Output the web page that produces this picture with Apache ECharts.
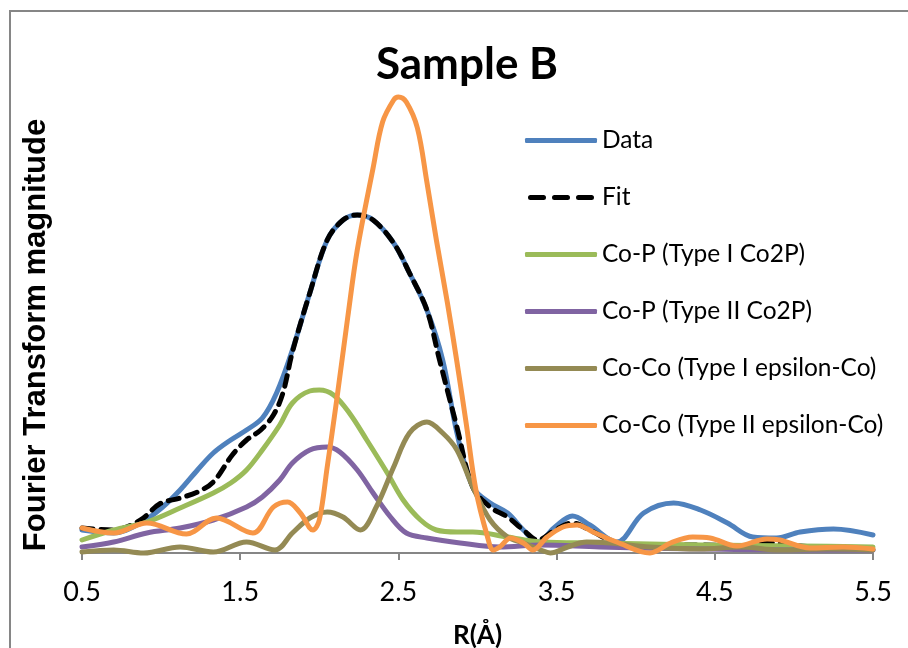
<!DOCTYPE html>
<html>
<head>
<meta charset="utf-8">
<script src="https://cdn.jsdelivr.net/npm/echarts@6/dist/echarts.min.js"></script>
<style>
html,body{margin:0;padding:0;background:#fff;}
#chart{width:908px;height:648px;}
</style>
</head>
<body>
<div id="chart"></div>
<script>
var titleText = 'Sample B';
var xAxisTitle = 'R(Å)';
var yAxisTitle = 'Fourier Transform magnitude';
var seriesNames = ['Data', 'Fit', 'Co-P (Type I Co2P)', 'Co-P (Type II Co2P)', 'Co-Co (Type I epsilon-Co)', 'Co-Co (Type II epsilon-Co)'];
var xTicks = [0.5, 1.5, 2.5, 3.5, 4.5, 5.5];

var dataCurve = [[0.5,0.46],[0.70,0.40],[0.87,0.60],[1.01,0.92],[1.12,1.26],[1.23,1.66],[1.33,2.0],[1.44,2.26],[1.54,2.46],[1.64,2.7],[1.73,3.2],[1.83,4.06],[1.94,5.2],[2.05,6.26],[2.15,6.66],[2.24,6.76],[2.34,6.66],[2.47,6.2],[2.57,5.6],[2.68,4.86],[2.78,3.86],[2.87,2.4],[2.97,1.32],[3.08,1.0],[3.19,0.8],[3.29,0.46],[3.38,0.22],[3.49,0.52],[3.6,0.74],[3.71,0.56],[3.88,0.22],[4.05,0.8],[4.24,1.0],[4.41,0.86],[4.58,0.6],[4.74,0.32],[4.89,0.3],[5.04,0.42],[5.25,0.48],[5.5,0.36]];

var fitCurve = [[0.5,0.5],[0.70,0.46],[0.87,0.66],[0.99,0.98],[1.12,1.1],[1.23,1.22],[1.33,1.42],[1.45,1.96],[1.54,2.26],[1.63,2.46],[1.71,2.76],[1.77,3.2],[1.83,4.02],[1.94,5.2],[2.05,6.26],[2.15,6.66],[2.24,6.76],[2.34,6.66],[2.47,6.2],[2.57,5.6],[2.68,4.86],[2.76,3.86],[2.87,2.52],[2.97,1.32],[3.08,0.92],[3.19,0.72],[3.29,0.46],[3.38,0.26],[3.49,0.46],[3.6,0.6],[3.72,0.44],[3.88,0.2],[4.09,0.16],[4.41,0.16],[4.66,0.14],[4.85,0.2],[5.04,0.14],[5.29,0.10],[5.5,0.1]];

var coP1 = [[0.5,0.26],[0.70,0.46],[0.91,0.62],[1.12,0.9],[1.33,1.2],[1.44,1.4],[1.54,1.66],[1.64,2.06],[1.75,2.56],[1.83,3.0],[1.94,3.24],[2.0,3.26],[2.09,3.16],[2.19,2.8],[2.30,2.26],[2.43,1.6],[2.53,1.06],[2.64,0.66],[2.74,0.46],[2.87,0.42],[2.97,0.42],[3.19,0.32],[3.40,0.22],[3.77,0.2],[4.41,0.16],[5.04,0.14],[5.5,0.12]];

var coP2 = [[0.5,0.12],[0.70,0.22],[0.91,0.4],[1.12,0.5],[1.33,0.66],[1.54,0.92],[1.64,1.12],[1.75,1.46],[1.83,1.8],[1.94,2.06],[2.05,2.12],[2.13,2.02],[2.24,1.66],[2.34,1.2],[2.45,0.72],[2.55,0.4],[2.68,0.3],[2.89,0.2],[3.14,0.12],[3.40,0.16],[3.77,0.12],[4.41,0.08],[5.04,0.06],[5.5,0.06]];

var coCo1 = [[0.5,0.02],[0.70,0.06],[0.89,0.0],[1.12,0.12],[1.33,0.02],[1.54,0.22],[1.72,0.06],[1.83,0.4],[1.94,0.7],[2.05,0.82],[2.15,0.72],[2.26,0.46],[2.36,0.92],[2.47,1.72],[2.57,2.4],[2.68,2.62],[2.78,2.4],[2.87,2.06],[2.97,1.32],[3.08,0.66],[3.19,0.32],[3.29,0.2],[3.40,0.06],[3.46,0.0],[3.57,0.12],[3.69,0.22],[3.84,0.2],[4.09,0.12],[4.41,0.08],[4.66,0.12],[4.91,0.06],[5.23,0.08],[5.5,0.06]];

var coCo2 = [[0.5,0.5],[0.70,0.4],[0.91,0.6],[1.16,0.38],[1.35,0.7],[1.58,0.4],[1.71,0.92],[1.80,1.02],[1.88,0.8],[1.96,0.46],[2.0,0.66],[2.05,1.72],[2.11,3.06],[2.18,4.72],[2.24,6.06],[2.34,7.7],[2.40,8.62],[2.47,9.06],[2.50,9.12],[2.55,9.02],[2.62,8.5],[2.68,7.42],[2.74,6.26],[2.81,5.0],[2.87,3.82],[2.93,2.56],[2.99,1.26],[3.06,0.36],[3.10,0.06],[3.14,0.12],[3.21,0.3],[3.29,0.2],[3.35,0.06],[3.44,0.32],[3.54,0.52],[3.63,0.56],[3.73,0.42],[3.88,0.22],[4.09,0.0],[4.22,0.2],[4.36,0.32],[4.47,0.3],[4.64,0.14],[4.83,0.28],[4.91,0.26],[5.10,0.1],[5.31,0.12],[5.5,0.08]];

var curves = [dataCurve, fitCurve, coP1, coP2, coCo1, coCo2];
var colors = ['#4F81BD', '#000000', '#9BBB59', '#8064A2', '#948A54', '#F79646'];

var chart = echarts.init(document.getElementById('chart'), null, {renderer: 'canvas'});

var calibri = 'Lato, "Open Sans", sans-serif';

var series = curves.map(function (c, i) {
  return {
    name: seriesNames[i],
    type: 'line',
    data: c,
    smooth: 0.35,
    symbol: 'none',
    showSymbol: false,
    clip: false,
    lineStyle: {
      color: colors[i],
      width: 5,
      type: i === 1 ? [11, 8] : 'solid',
      cap: 'round',
      join: 'round'
    },
    itemStyle: {color: colors[i]},
    emphasis: {disabled: true},
    z: 2 + i
  };
});

var dashIcon = 'path://M2.5,0h13a2.5,2.5 0 0 1 0,5h-13a2.5,2.5 0 0 1 0,-5z M26.5,0h13a2.5,2.5 0 0 1 0,5h-13a2.5,2.5 0 0 1 0,-5z M50.5,0h13a2.5,2.5 0 0 1 0,5h-13a2.5,2.5 0 0 1 0,-5z';
var legendData = seriesNames.map(function (n, i) {
  return {name: n, icon: i === 1 ? dashIcon : 'roundRect', itemStyle: {color: colors[i]}};
});

chart.setOption({
  animation: false,
  backgroundColor: '#ffffff',
  title: {
    text: titleText,
    left: 462,
    top: 38,
    textAlign: 'center',
    textStyle: {fontFamily: calibri, fontWeight: 'bold', fontSize: 44, color: '#000'}
  },
  graphic: [{
    type: 'rect',
    silent: true,
    shape: {x: 10, y: 11, width: 1000, height: 1000},
    style: {fill: 'none', stroke: '#868686', lineWidth: 2}
  }],
  legend: {
    orient: 'vertical',
    left: 525,
    top: 128,
    padding: 0,
    itemWidth: 72,
    itemHeight: 5,
    itemGap: 32,
    data: legendData,
    textStyle: {fontFamily: calibri, fontSize: 24.5, color: '#000', lineHeight: 24},
    selectedMode: false
  },
  grid: {left: 82, right: 35, top: 53, bottom: 95, containLabel: false, outerBoundsMode: 'none'},
  xAxis: {
    type: 'value',
    min: 0.5,
    max: 5.5,
    interval: 1,
    name: xAxisTitle,
    nameLocation: 'middle',
    nameGap: 70,
    nameTextStyle: {fontFamily: calibri, fontWeight: 'bold', fontSize: 26, color: '#000'},
    axisLine: {show: true, lineStyle: {color: '#868686', width: 2}},
    axisTick: {show: true, inside: false, length: 7, lineStyle: {color: '#868686', width: 2}},
    axisLabel: {
      fontFamily: calibri, fontSize: 27, color: '#000', margin: 26,
      formatter: function (v) { return v.toFixed(1); }
    },
    splitLine: {show: false}
  },
  yAxis: {
    type: 'value',
    min: 0,
    max: 10,
    name: yAxisTitle,
    nameLocation: 'middle',
    nameRotate: 90,
    nameGap: 30,
    nameTextStyle: {fontFamily: '"Liberation Sans", Arial, sans-serif', fontWeight: 'bold', fontSize: 31, color: '#000', padding: [0, 64, 0, 0]},
    axisLine: {show: false},
    axisTick: {show: false},
    axisLabel: {show: false},
    splitLine: {show: false}
  },
  series: series
});
</script>
</body>
</html>
